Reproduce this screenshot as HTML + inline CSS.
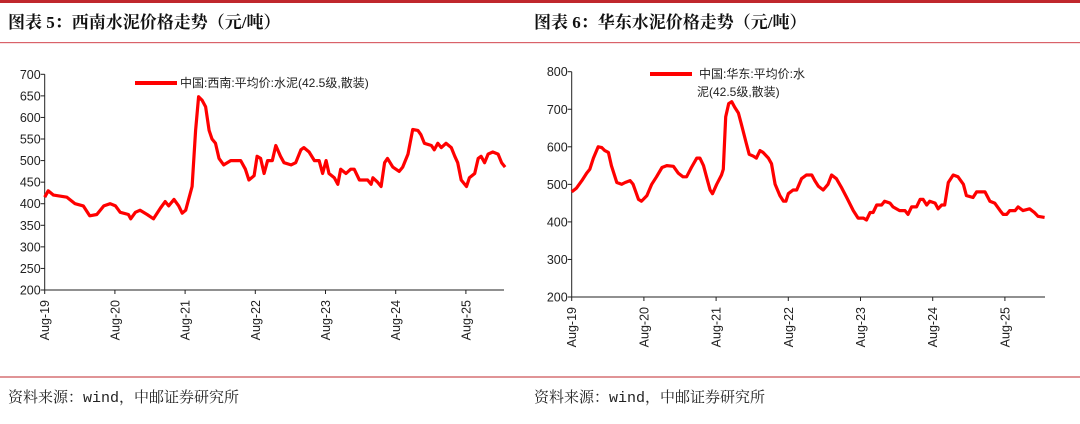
<!DOCTYPE html>
<html><head><meta charset="utf-8"><style>
body{margin:0;background:#fff;}
svg{display:block;}
.t{font-family:"Liberation Serif","Noto Serif CJK SC",serif;font-weight:bold;font-size:17px;fill:#111;}
.s{font-family:"Liberation Mono","Noto Serif CJK SC",serif;font-size:15px;fill:#222;}
.ax{font-family:"Liberation Sans",sans-serif;font-size:12.5px;fill:#222;}
.lg{font-family:"Liberation Sans","Noto Sans CJK SC",sans-serif;font-size:12px;fill:#222;}
</style></head><body>
<svg id="c" width="1080" height="424" viewBox="0 0 1080 424">
<rect x="0" y="0" width="1080" height="3" fill="#c0282d"/>
<rect x="0" y="42" width="1080" height="1.2" fill="#d9626a"/>
<rect x="0" y="376.5" width="1080" height="1" fill="#c0282d"/>
<text class="t" x="8" y="28">图表 5：西南水泥价格走势（元/吨）</text>
<text class="t" x="534" y="28">图表 6：华东水泥价格走势（元/吨）</text>
<text class="s" x="8" y="402">资料来源：wind，中邮证券研究所</text>
<text class="s" x="534" y="402">资料来源：wind，中邮证券研究所</text>
<g id="g1"></g><g id="g2"></g>
</svg>
<script>
const xTickLabels=["Aug-19","Aug-20","Aug-21","Aug-22","Aug-23","Aug-24","Aug-25"];
const swMonths=[0,0.6,1.5,3.8,5.2,6.6,7.7,8.9,10.1,11.2,12.1,12.9,14.3,14.7,15.5,16.3,17.5,18.6,19.8,20.6,21.2,22.1,22.9,23.5,24.1,24.6,25.2,25.8,26.3,26.9,27.5,28.1,28.6,29.2,29.8,30.6,31.8,33.5,34.3,34.9,35.8,36.3,36.9,37.5,38.1,38.9,39.5,40.3,40.9,42.1,42.9,43.8,44.3,45.2,46.1,46.9,47.5,48.1,48.6,49.5,50.1,50.6,51.5,52.3,52.9,53.8,55.2,55.8,56.1,56.9,57.5,58.1,58.6,59.5,60.6,61.2,62.1,62.9,63.8,64.3,64.9,66.1,66.6,67.2,67.8,68.6,69.5,70.1,70.6,71.2,72.1,72.6,73.5,74.1,74.6,75.2,75.8,76.6,77.5,78.1,78.7];
const swValues=[415,430,420,415,400,395,372,375,395,400,395,380,375,365,380,385,375,365,390,405,395,410,395,378,385,410,440,570,648,640,625,570,550,540,505,490,500,500,480,455,465,510,505,470,500,500,535,510,495,490,495,525,530,520,500,500,470,500,470,460,445,480,470,480,480,455,455,445,460,450,440,495,505,485,475,485,515,572,570,560,540,535,525,540,530,540,530,510,495,455,440,460,470,505,510,495,515,520,515,495,485];
const swTicks=[200,250,300,350,400,450,500,550,600,650,700];
const ecMonths=[0,0.8,1.7,2.5,3.0,3.6,4.4,5.0,5.5,6.1,6.6,7.5,8.3,8.9,9.7,10.2,11.1,11.6,12.5,13.3,14.1,15.0,15.8,16.9,17.7,18.5,19.1,19.9,20.8,21.3,21.9,22.4,23.0,23.4,24.1,24.9,25.2,25.6,26.1,26.6,27.1,27.7,28.2,29.0,29.5,30.2,30.7,31.3,31.8,32.7,33.2,33.8,34.6,35.2,35.6,36.0,36.8,37.4,38.2,39.0,39.9,40.4,41.0,41.8,42.6,43.2,44.0,44.9,45.7,46.8,47.6,48.5,49.0,49.6,50.1,50.7,51.5,52.0,52.9,53.4,54.5,55.4,55.9,56.5,57.3,57.9,58.4,59.0,59.5,60.4,60.9,61.5,62.0,62.6,63.4,64.2,65.1,65.6,66.7,67.3,68.7,69.5,70.3,71.2,71.7,72.3,72.8,73.7,74.2,75.0,76.1,76.9,77.5,78.6];
const ecValues=[480,490,510,530,540,570,600,598,590,585,550,505,500,505,510,500,460,455,470,500,520,545,550,548,530,520,520,545,570,570,550,520,485,475,500,525,540,680,715,720,705,690,660,610,580,575,570,590,585,570,555,500,470,455,455,475,485,485,515,525,525,510,495,485,500,525,515,490,465,430,410,410,405,425,425,445,445,455,450,440,430,430,420,440,440,460,460,445,455,450,435,445,445,505,525,520,500,470,465,480,480,455,450,430,420,420,430,430,440,430,435,425,415,412];
const ecTicks=[200,300,400,500,600,700,800];
const NS="http://www.w3.org/2000/svg";
function mk(p,tag,a){const e=document.createElementNS(NS,tag);for(const k in a)e.setAttribute(k,a[k]);p.appendChild(e);return e;}
function draw(g,cfg){
  const x=m=>cfg.x0+m*cfg.pxPerYear/12;
  const y=v=>cfg.yBot-(v-cfg.vMin)/(cfg.vMax-cfg.vMin)*(cfg.yBot-cfg.yTop);
  const ya=mk(g,'line',{x1:cfg.x0,y1:cfg.yTop,x2:cfg.x0,y2:cfg.yBot,stroke:'#222','stroke-width':1});
  
  
  const xa=mk(g,'line',{x1:cfg.x0,y1:cfg.yBot,x2:cfg.xEnd,y2:cfg.yBot,stroke:'#222','stroke-width':1});
  
  
  cfg.ticks.forEach(v=>{
    mk(g,'line',{x1:cfg.x0-4,y1:y(v),x2:cfg.x0,y2:y(v),stroke:'#222'});
    const t=mk(g,'text',{x:cfg.x0-4,y:y(v)+4.5,'text-anchor':'end',class:'ax'});
    t.textContent=v;
    
    
  });
  xTickLabels.forEach((l,i)=>{
    const px=x(i*12);
    mk(g,'line',{x1:px,y1:cfg.yBot,x2:px,y2:cfg.yBot+4,stroke:'#222'});
    const t=mk(g,'text',{x:0,y:0,'text-anchor':'end',class:'ax',transform:`translate(${px+4.5},${cfg.yBot+10}) rotate(-90)`});
    t.textContent=l;
    
    
  });
  const d=cfg.months.map((m,i)=>(i?'L':'M')+x(m).toFixed(1)+' '+y(cfg.values[i]).toFixed(1)).join(' ');
  const p=mk(g,'path',{d:d,fill:'none',stroke:'#ff0000','stroke-width':3.2,'stroke-linejoin':'round'});
  
  
  const ll=mk(g,'line',{x1:cfg.lg[0],y1:cfg.lg[1],x2:cfg.lg[0]+42,y2:cfg.lg[1],stroke:'#ff0000','stroke-width':4});
  
  
  cfg.lgText.forEach((s,i)=>{
    const t=mk(g,'text',{x:cfg.lgTx[i],y:cfg.lg[1]+4+i*18,class:'lg'});
    t.textContent=s;
    
    
  });
}
draw(document.getElementById('g1'),{x0:44.7,xEnd:504,pxPerYear:70.2,yTop:74.3,yBot:290,vMin:200,vMax:700,ticks:swTicks,months:swMonths,values:swValues,lg:[135,83],lgTx:[180],lgText:["中国:西南:平均价:水泥(42.5级,散装)"]});
draw(document.getElementById('g2'),{x0:571.7,xEnd:1045,pxPerYear:72.2,yTop:71.7,yBot:297,vMin:200,vMax:800,ticks:ecTicks,months:ecMonths,values:ecValues,lg:[650,74],lgTx:[699,697],lgText:["中国:华东:平均价:水","泥(42.5级,散装)"]});
</script>
</body></html>
